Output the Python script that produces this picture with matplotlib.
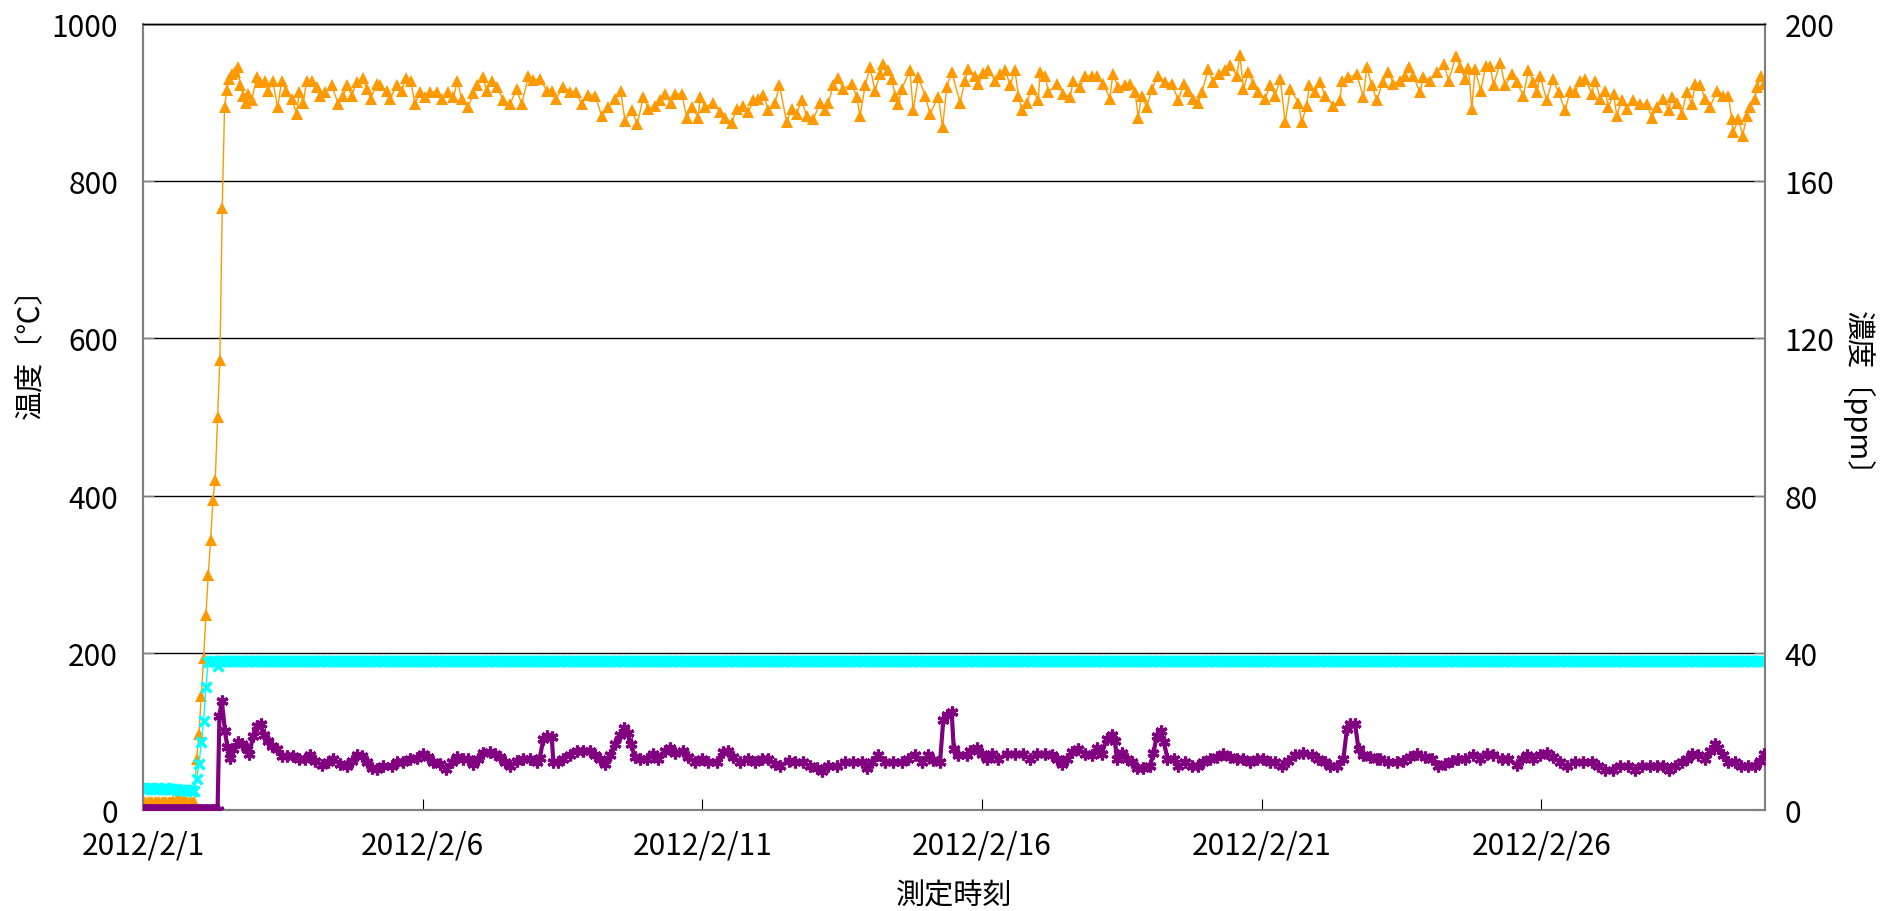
import matplotlib
matplotlib.use("Agg")
import matplotlib.pyplot as plt
import numpy as np

plt.rcParams['font.family'] = ['Noto Sans CJK JP', 'DejaVu Sans']

# 2012/2/1 00:00 からの経過時間 [h]
day_ticks = [0, 5, 10, 15, 20, 25]
day_labels = ["2012/2/1", "2012/2/6", "2012/2/11", "2012/2/16", "2012/2/21", "2012/2/26"]

# 温度 (オレンジ)
temp_hours = [
    0, 1, 2, 3, 4, 5, 6, 7, 8, 9, 10, 11, 12, 13, 14, 15, 16, 17, 18, 19, 20, 21, 22,
    23, 24, 25, 26, 27, 28, 29, 30, 31, 32, 33, 34, 35,
    36, 37, 38, 39.5, 40.9, 41.6, 43.1, 44.2, 45.2, 46.6, 48.8, 50.2, 52.4, 53.8, 55.6, 57.8,
    59.5, 61.4, 63.8, 65.9, 67.1, 68.8, 70.2, 72.4, 74.5, 76.0, 78.1, 81.0, 83.8, 86.0, 87.7,
    89.5, 91.7, 94.3, 96.0, 97.7, 100.3, 101.7, 104.6, 106.0, 108.9, 111.0, 112.7, 114.9,
    116.7, 118.9, 121.0, 123.2, 126.0, 128.2, 131.0, 133.2, 134.9, 136.7, 139.6, 141.8, 143.2,
    145.8, 147.5, 149.6, 151.8, 154.6, 157.5, 160.3, 162.5, 165.4, 167.5, 170.4, 173.2,
    175.4, 177.2, 180.4, 183.2, 185.8, 188.2, 191.1, 194.0, 196.8, 199.7, 202.6, 205.0, 206.8,
    209.7, 212.1, 214.7, 216.8, 219.7, 221.9, 224.0, 226.4, 228.3, 231.2, 233.3, 235.4, 238.3,
    239.0, 241.2, 244.7, 247.6, 249.7, 252.6, 254.8, 257.6, 259.8, 261.9, 264.1, 266.2, 268.4,
    271.2, 273.1, 276.2, 278.3, 280.5, 282.6, 284.8, 287.7, 290.5, 292.6, 294.1, 296.2, 298.4,
    300.5, 304.1, 306.3, 307.7, 309.9, 312.0, 314.1, 316.3, 317.7, 319.8, 321.3, 322.7, 324.1,
    325.5, 329.1, 330.5, 332.7, 335.6, 337.7, 341.3, 343.1, 344.9, 347.0, 350.6, 352.7, 354.2,
    357.0, 358.5, 360.6, 362.8, 365.6, 367.8, 369.9, 372.1, 374.2, 375.6, 377.1, 379.2, 381.4,
    384.2, 384.9, 387.1, 388.5, 392.1, 394.9, 397.8, 399.2, 402.1, 404.2, 407.1, 409.2, 412.1,
    414.9, 416.1, 418.5, 421.4, 423.5, 425.7, 427.1, 428.5, 430.7, 432.8, 435.7, 438.6, 441.4,
    444.3, 446.5, 448.6, 450.7, 452.9, 454.3, 457.2, 459.3, 461.5, 464.3, 466.5, 469.3, 470.7,
    472.2, 474.3, 476.5, 478.6, 481.5, 483.6, 485.8, 488.0, 490.1, 492.3, 495.8, 497.2, 499.3,
    500.5, 502.9, 505.0, 507.2, 510.8, 513.7, 514.4, 517.2, 520.8, 523.7, 525.1, 527.3, 529.4,
    532.0, 534.4, 536.5, 539.4, 541.6, 543.4, 545.1, 547.9, 549.4, 552.3, 555.2, 558.3, 560.2,
    563.4, 565.2, 567.3, 568.7, 570.2, 571.6, 574.0, 576.2, 578.1, 579.5, 582.3, 584.5, 587.3,
    589.5, 592.3, 594.5, 596.6, 598.0, 599.5, 602.3, 604.9, 607.4, 610.2, 612.4, 614.5, 616.7,
    618.8, 621.7, 623.1, 625.3, 627.4, 628.8, 631.0, 632.4, 634.5, 636.7, 639.5, 642.4, 645.3,
    647.4, 649.5, 652.1, 654.6, 656.0, 658.2, 660.3, 662.4, 664.6, 666.0, 668.2, 670.3, 672.4,
    675.3, 678.1, 680.3, 681.7, 682.4, 684.6, 686.4, 688.2, 689.6, 691.7, 692.7, 694.1, 695.6,
]
temp_vals = [
    10, 10, 10, 10, 10, 10, 10, 10, 10, 10, 10, 10, 10, 11, 12, 13, 13, 12, 11, 10, 10, 10, 10,
    65, 97, 145, 193, 248, 299, 343, 395, 420, 500, 573, 766, 894,
    916, 930, 936, 939, 945, 922, 909, 900, 911, 903, 932, 926, 927, 915, 928, 894,
    928, 915, 905, 886, 913, 900, 927, 927, 920, 909, 913, 922, 898, 909, 922,
    909, 926, 931, 917, 905, 924, 922, 915, 905, 922, 915, 931, 927,
    898, 913, 907, 913, 914, 904, 913, 907, 927, 905, 894, 912, 922,
    933, 915, 927, 920, 903, 898, 917, 898, 934, 929, 930, 915,
    915, 905, 920, 914, 913, 898, 910, 909, 883, 894, 905, 915, 877,
    890, 873, 907, 892, 896, 903, 911, 899, 911, 911, 881, 894, 881,
    907, 894, 900, 888, 881, 874, 892, 896, 888, 903, 905, 910, 890,
    900, 922, 875, 892, 886, 903, 883, 879, 900, 890, 900, 922, 931,
    917, 924, 907, 883, 922, 945, 915, 936, 949, 941, 930, 909, 898,
    917, 941, 890, 932, 909, 886, 907, 869, 920, 939, 900, 928, 943,
    934, 924, 938, 941, 928, 936, 942, 922, 941, 909, 890, 900, 917,
    903, 939, 934, 913, 924, 911, 907, 928, 920, 934, 934, 934, 924,
    905, 936, 920, 922, 924, 913, 881, 909, 894, 917, 934, 926, 924,
    903, 924, 915, 905, 900, 913, 943, 926, 936, 941, 948, 934, 960,
    917, 939, 924, 913, 905, 922, 909, 930, 875, 917, 900, 875, 896,
    922, 913, 926, 909, 896, 903, 928, 932, 936, 907, 945, 922, 903,
    926, 939, 924, 928, 934, 945, 934, 913, 932, 928, 939, 949, 928,
    959, 945, 930, 944, 892, 943, 915, 947, 947, 922, 951, 922, 936,
    926, 909, 941, 926, 913, 934, 903, 930, 913, 890, 915, 913, 928,
    930, 911, 928, 905, 915, 894, 911, 883, 903, 892, 903, 898, 898,
    881, 894, 905, 890, 907, 900, 886, 913, 898, 924, 922, 905, 894,
    915, 909, 909, 879, 862, 879, 858, 883, 894, 905, 920, 934, 924,
]

# 温度 (シアン) 1時間毎
cyan_head = [27, 27, 28, 28, 28, 27, 27, 27, 27, 28, 28, 27, 27, 27, 27, 26, 26, 26, 26, 25, 25, 24,
             24, 39, 58, 86, 113, 157, 188, 190, 190, 190, 183]
cyan_hours = list(range(696))
cyan_vals = cyan_head + [190] * (len(cyan_hours) - len(cyan_head))

# 濃度 (紫) [ppm]
conc_hours = list(range(33)) + [
    32.8, 33.8, 35.2, 36.2, 37.3, 38.8, 40.9, 42.3, 44.5, 45.6, 47.3, 48.8, 50.5, 51.9, 53.8,
    55.2, 57.4, 59.5, 61.7, 64.5, 67.1, 69.5, 71.7, 73.8, 76.7, 79.5, 81.7, 84.5, 87.4, 89.5,
    91.7, 93.8, 96.0, 98.1, 100.3, 103.1, 106.7, 108.9, 111.7, 114.6, 117.4, 120.3, 122.4,
    124.6, 127.4, 130.0, 132.5, 134.6, 137.5, 139.6, 141.8, 143.9, 146.0, 148.9, 151.1, 153.2,
    155.3, 157.5, 160.3, 163.2, 166.1, 168.9, 170.3, 171.8, 173.5, 175.4, 176.1, 178.0, 180.4,
    183.2, 186.1, 189.0, 191.8, 194.0, 196.1, 198.3, 200.4, 202.6, 204.7, 206.4, 207.9, 209.3,
    211.1, 213.3, 216.1, 219.0, 221.1, 224.0, 226.2, 228.3, 231.9, 234.0, 236.9, 239.7, 242.6,
    246.2, 249.0, 251.2, 253.3, 256.2, 259.8, 262.6, 265.5, 268.4, 271.2, 273.4, 277.0, 279.9,
    283.3, 286.2, 289.1, 291.2, 294.1, 297.6, 301.3, 304.8, 308.4, 310.5, 312.7, 315.5, 318.4,
    322.0, 325.5, 328.4, 331.3, 334.1, 337.0, 339.1, 342.0, 343.4, 345.2, 347.0, 347.9, 349.8,
    353.4, 355.0, 357.8, 359.9, 362.0, 364.2, 367.0, 370.6, 374.2, 377.8, 380.6, 383.5, 387.1,
    389.9, 392.1, 394.2, 396.4, 398.5, 401.4, 404.2, 407.1, 409.2, 411.4, 413.5, 415.7, 417.1,
    417.8, 420.0, 422.1, 424.3, 426.4, 429.3, 432.1, 433.6, 435.0, 436.7, 438.1, 439.6, 442.2,
    444.3, 447.1, 450.0, 452.9, 455.0, 457.8, 460.7, 463.5, 466.4, 469.3, 472.2, 475.0, 477.9,
    480.7, 483.6, 485.8, 488.6, 491.5, 494.3, 497.9, 501.5, 504.4, 507.2, 509.4, 512.2, 515.1,
    516.6, 518.0, 520.1, 521.6, 523.7, 526.6, 529.4, 530.8, 534.4, 538.0, 540.8, 543.7, 546.5,
    550.1, 552.9, 555.8, 558.7, 561.5, 564.4, 567.3, 570.9, 573.7, 576.6, 579.4, 583.0, 585.9,
    589.5, 591.7, 593.8, 596.6, 599.5, 602.3, 605.2, 608.1, 610.9, 614.5, 618.0, 621.6, 624.4,
    627.4, 630.9, 633.8, 637.4, 640.2, 643.1, 646.7, 649.5, 652.4, 654.6, 657.4, 660.3, 662.4,
    664.6, 667.4, 670.3, 672.4, 674.5, 676.0, 677.9, 680.3, 683.2, 685.8, 688.8, 691.7, 693.9,
    695.6,
]
conc_vals = [0] * 33 + [
    24.0, 27.8, 20.0, 16.0, 13.3, 15.5, 17.2, 16.8, 15.5, 14.2, 18.9, 21.4, 21.8, 19.2, 17.5,
    16.3, 15.5, 13.8, 13.8, 13.8, 13.1, 13.1, 14.0, 12.5, 11.4, 12.1, 13.0, 11.7, 11.1, 12.5,
    14.0, 13.8, 12.3, 10.8, 10.4, 11.1, 11.1, 12.1, 12.3, 13.1, 13.3, 14.2, 13.6,
    12.3, 11.7, 10.4, 12.1, 13.6, 13.1, 13.0, 11.7, 13.0, 14.5, 14.8, 14.2, 13.6,
    12.1, 11.1, 12.5, 13.1, 13.0, 12.3, 13.3, 18.1, 18.9, 18.5, 12.1, 12.1, 13.1,
    14.0, 15.1, 15.1, 15.1, 14.0, 13.1, 11.7, 14.0, 16.8, 19.2, 20.9, 19.6, 16.8,
    13.6, 13.0, 13.0, 14.2, 13.1, 15.1, 15.9, 14.6, 15.1, 13.6, 12.1, 13.1, 12.1,
    12.1, 14.8, 15.1, 13.4, 12.1, 13.0, 12.1, 13.0, 13.0, 11.7, 11.1, 12.5, 12.1,
    12.1, 11.1, 10.6, 10.0, 11.1, 11.1, 12.1, 12.1, 12.1, 10.8, 12.1, 14.0, 12.1,
    12.1, 12.1, 13.0, 14.0, 12.1, 14.0, 12.8, 12.1, 23.0, 24.2, 25.0, 15.5, 14.0,
    14.0, 15.1, 15.9, 14.2, 13.0, 14.2, 13.0, 14.2, 14.2, 14.2, 13.0, 14.2, 14.2,
    14.0, 13.0, 11.7, 13.1, 14.8, 15.5, 14.2, 14.0, 15.9, 14.2, 18.1, 19.1, 17.6,
    13.1, 14.5, 13.0, 12.1, 10.8, 10.8, 11.1, 14.5, 18.9, 20.2, 17.2, 13.1, 13.1,
    11.1, 12.1, 11.1, 11.1, 12.1, 13.0, 13.4, 14.2, 13.6, 13.1, 13.0, 12.1, 13.0,
    13.1, 12.1, 12.1, 11.1, 12.5, 14.0, 14.5, 14.0, 13.0, 12.1, 11.1, 11.1, 13.1,
    20.6, 21.8, 21.8, 15.5, 14.0, 13.4, 13.1, 13.1, 12.1, 12.1, 12.5, 13.6, 14.2,
    13.6, 13.1, 11.1, 11.7, 12.5, 13.1, 13.1, 14.0, 13.1, 14.2, 14.0, 13.1, 13.1,
    11.4, 13.0, 14.0, 13.0, 14.0, 14.5, 13.4, 12.1, 11.1, 12.1, 12.1, 12.1, 11.1,
    10.3, 10.3, 11.1, 11.1, 10.3, 11.1, 11.1, 11.1, 11.1, 10.3, 11.1, 12.1, 13.1,
    14.2, 14.0, 13.1, 15.1, 16.8, 15.9, 14.0, 12.1, 12.1, 11.1, 11.1, 11.1, 12.5,
    14.2,
]

fig = plt.figure(figsize=(18.86, 9.12), dpi=100)
ax = fig.add_axes([143 / 1886, 1 - 811 / 912, (1765 - 143) / 1886, (811 - 25) / 912])
ax2 = ax.twinx()

ax.plot(np.array(temp_hours) / 24, temp_vals, color="#FF9900", linewidth=1.0,
        marker="^", markersize=8, markeredgewidth=0, zorder=3)
ax.plot(np.array(cyan_hours) / 24, cyan_vals, color="#00FFFF", linewidth=1.0,
        marker="x", markersize=6.5, markeredgewidth=2.5, zorder=4)
ax2.plot(np.array(conc_hours) / 24, conc_vals, color="#800080", linewidth=3.0,
         marker=(6, 2, 0), markersize=8.5, markeredgewidth=2.3, zorder=5)

ax.set_xlim(0, 29)
ax.set_ylim(0, 1000)
ax2.set_ylim(0, 200)
ax.set_yticks([0, 200, 400, 600, 800, 1000])
ax2.set_yticks([0, 40, 80, 120, 160, 200])
ax.set_xticks(day_ticks)
ax.set_xticklabels(day_labels)

ax.yaxis.grid(True, color="black", linewidth=1.0)
ax.set_axisbelow(True)

for a in (ax, ax2):
    for s in a.spines.values():
        s.set_color("#808080")
        s.set_linewidth(1.5)
    a.spines["top"].set_color("black")
    a.spines["top"].set_linewidth(1.0)

ax.tick_params(axis="y", direction="in", length=8, color="#808080", labelsize=21.5, pad=18)
ax.tick_params(axis="x", direction="in", length=8, color="black", labelsize=21.5, pad=14)
ax2.tick_params(axis="y", direction="in", length=8, color="#808080", labelsize=21.5, pad=14)

fig.text(30 / 1886, 1 - 346 / 912, "温度〔℃〕", rotation=90, fontsize=21,
         ha="center", va="center")
fig.text(1858 / 1886, 1 - 401 / 912, "濃度〔ppm〕", rotation=270, fontsize=21,
         ha="center", va="center")
fig.text(954 / 1886, 1 - 896 / 912, "測定時刻", fontsize=21, ha="center", va="center")

fig.savefig("out.png", dpi=100, facecolor="white")
plt.close("all")
